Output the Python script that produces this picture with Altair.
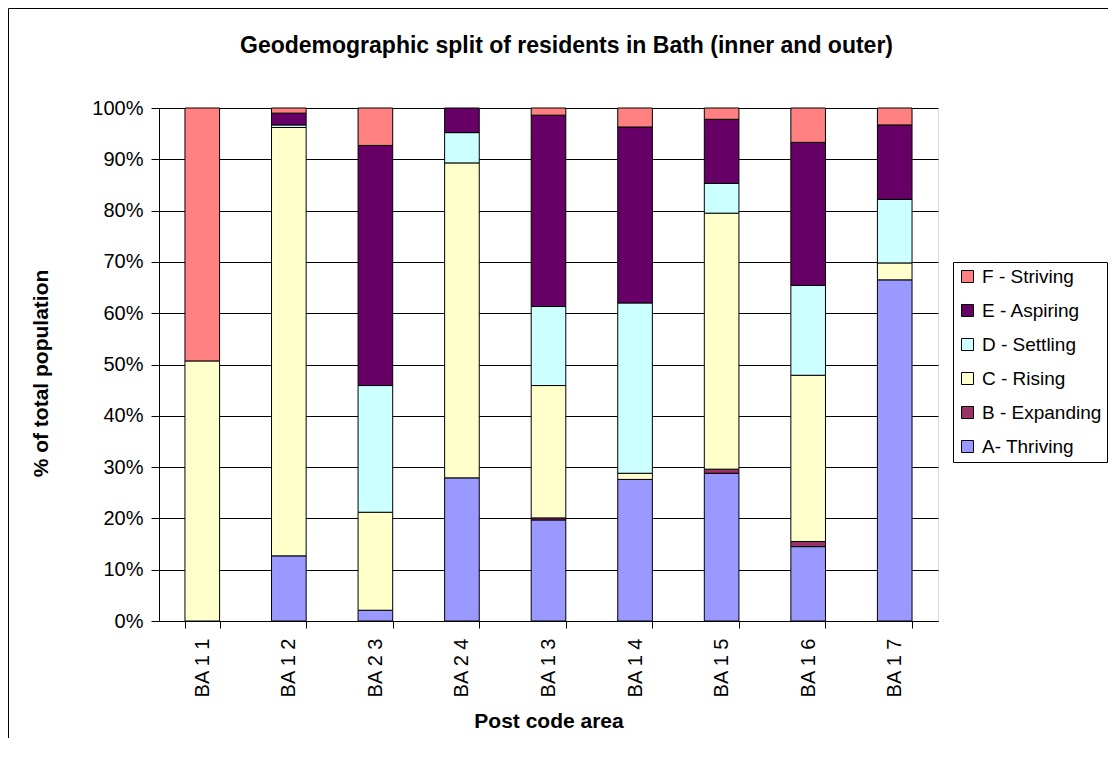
import altair as alt
import pandas as pd

areas = ["BA 1 1", "BA 1 2", "BA 2 3", "BA 2 4", "BA 1 3", "BA 1 4", "BA 1 5", "BA 1 6", "BA 1 7"]
groups = ["A- Thriving", "B - Expanding", "C - Rising", "D - Settling", "E - Aspiring", "F - Striving"]
colors = ["#9999FF", "#993366", "#FFFFCC", "#CCFFFF", "#660066", "#FF8080"]

a_thriving = [0, 12.7, 2.1, 27.9, 19.7, 27.6, 28.8, 14.5, 66.5]
b_expanding = [0, 0, 0, 0, 0.4, 0, 0.8, 1.0, 0]
c_rising = [50.7, 83.5, 19.1, 61.4, 25.8, 1.2, 49.9, 32.4, 3.3]
d_settling = [0, 0.5, 24.7, 5.9, 15.4, 33.2, 5.8, 17.5, 12.4]
e_aspiring = [0, 2.3, 46.8, 4.8, 37.3, 34.3, 12.5, 27.9, 14.5]
f_striving = [49.3, 1.0, 7.3, 0, 1.4, 3.7, 2.2, 6.7, 3.3]

y_ticks = [0, 0.1, 0.2, 0.3, 0.4, 0.5, 0.6, 0.7, 0.8, 0.9, 1.0]

series = [a_thriving, b_expanding, c_rising, d_settling, e_aspiring, f_striving]
rows = []
for gi, (g, vals) in enumerate(zip(groups, series)):
    for area, v in zip(areas, vals):
        rows.append({"area": area, "group": g, "rank": gi, "value": v})
df = pd.DataFrame(rows)

FONT = "Liberation Sans"

bars = alt.Chart(df).transform_filter("datum.value > 0").mark_bar(
    stroke="black", strokeWidth=1
).encode(
    x=alt.X("area:N", sort=areas, title="Post code area",
            scale=alt.Scale(paddingInner=0.6, paddingOuter=0.3),
            axis=alt.Axis(labelAngle=-90, labelAlign="right", labelBaseline="middle",
                          labelFont=FONT, labelFontSize=20, labelColor="black",
                          labelPadding=10, tickBand="extent", tickSize=7,
                          tickColor="black", domainColor="black", grid=False,
                          titleFont=FONT, titleFontSize=21, titleFontWeight="bold",
                          titleColor="black", titleBaseline="middle", titleY=100)),
    y=alt.Y("value:Q", stack="normalize", title="% of total population",
            scale=alt.Scale(domain=[0, 1], nice=False),
            axis=alt.Axis(values=y_ticks, format=".0%", labelFont=FONT,
                          labelFontSize=20, labelColor="black", labelPadding=8,
                          tickSize=8, tickColor="black", domainColor="black",
                          grid=True, gridColor="black", gridOpacity=1, gridWidth=1,
                          titleFont=FONT, titleFontSize=21, titleFontWeight="bold",
                          titleColor="black", titleX=-118, titleY=265,
                          titleAngle=-90, titleAlign="center", titleBaseline="middle")),
    color=alt.Color("group:N",
                    scale=alt.Scale(domain=groups[::-1], range=colors[::-1]),
                    legend=alt.Legend(title=None, orient="none", legendX=794, legendY=154,
                                      labelFont=FONT, labelFontSize=19, labelColor="black",
                                      symbolType="square", symbolSize=144,
                                      symbolStrokeColor="black", symbolStrokeWidth=1,
                                      symbolOpacity=1, labelOffset=5, rowPadding=14,
                                      padding=5, strokeColor="black", fillColor="white")),
    order=alt.Order("rank:Q", sort="ascending"),
)

frame = pd.DataFrame({"k": [0]})
left_border = alt.Chart(frame).mark_rule(color="black", strokeWidth=1).encode(
    x=alt.value(-150.5), y=alt.value(-99.5), y2=alt.value(640)
)
top_border = alt.Chart(frame).mark_rule(color="black", strokeWidth=1).encode(
    x=alt.value(-150.5), x2=alt.value(960), y=alt.value(-99.5)
)

chart = alt.layer(bars, left_border, top_border).properties(
    width=779, height=513,
    padding={"left": 151, "top": 100, "right": 170, "bottom": 117},
    autosize=alt.AutoSizeParams(type="none"),
    title=alt.TitleParams("Geodemographic split of residents in Bath (inner and outer)",
                          font=FONT, fontSize=23, fontWeight="bold", color="black",
                          anchor="middle", frame="group", dx=18, offset=0,
                          baseline="alphabetic", dy=68),
).configure_view(
    fill="#C0C0C0", stroke="#808080", strokeWidth=1
).configure(background="white")

chart.save("out.html", embed_options={"renderer": "svg", "actions": False})
